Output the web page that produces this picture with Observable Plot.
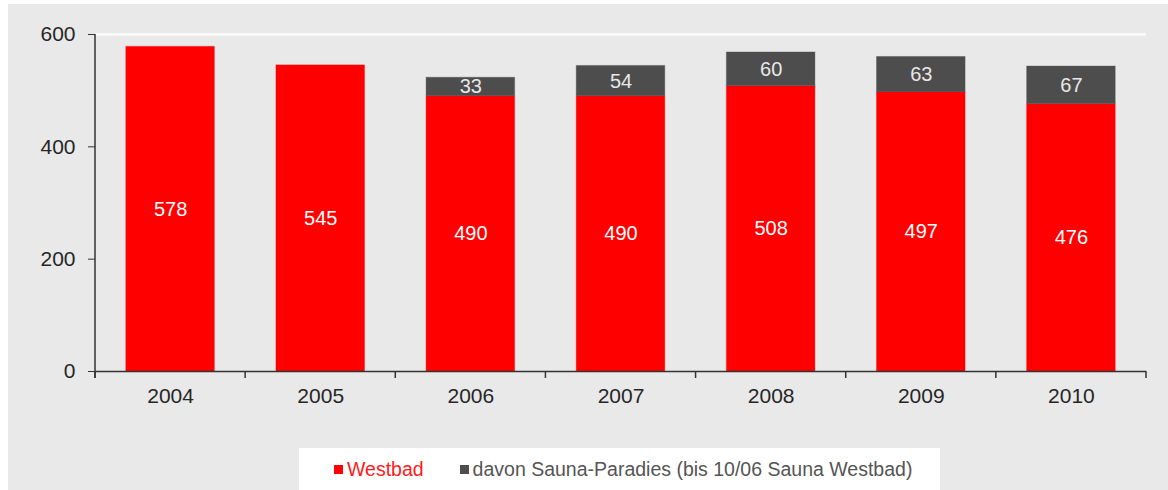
<!DOCTYPE html>
<html><head><meta charset="utf-8">
<script src="https://cdn.jsdelivr.net/npm/d3@7"></script>
<script src="https://cdn.jsdelivr.net/npm/@observablehq/plot@0.6"></script>
<style>
body{margin:0;background:#fff;font-family:"Liberation Sans",Arial,sans-serif;}
#wrap{position:absolute;left:8px;top:4px;width:1160px;height:486px;background:#e9e9e9;overflow:hidden;}
#chart{position:absolute;left:0;top:0;}
#legend{position:absolute;left:291px;top:444px;width:641px;height:42px;background:#fff;font-size:19.5px;display:flex;align-items:center;padding-left:35px;box-sizing:border-box;white-space:nowrap;}
.item{display:flex;align-items:center;}
.sw{width:9px;height:9px;margin-right:4px;display:inline-block;}
</style></head><body>
<div id="wrap"><div id="chart"></div><div id="legend"></div></div>
<script>
const years = ["2004","2005","2006","2007","2008","2009","2010"];
const westbad = [578,545,490,490,508,497,476];
const sauna = [null,null,33,54,60,63,67];
const seriesNames = ["Westbad","davon Sauna-Paradies (bis 10/06 Sauna Westbad)"];
const seriesColors = ["#ff0000","#4d4d4d"];
const legendTextColors = ["#ff1a1a","#555555"];
const yTicks = [0,200,400,600];

const rows = [];
years.forEach((y,i)=>{
  rows.push({year:y, series:seriesNames[0], value:westbad[i]});
  if (sauna[i] != null) rows.push({year:y, series:seriesNames[1], value:sauna[i]});
});

const chart = Plot.plot({
  width:1160, height:440,
  marginLeft:87, marginRight:22, marginTop:30, marginBottom:73,
  style:{background:"transparent", fontFamily:'"Liberation Sans",Arial,sans-serif', overflow:"visible"},
  x:{domain:years, paddingInner:0.41, paddingOuter:0.205, round:false, label:null},
  y:{domain:[0,600], label:null},
  color:{domain:seriesNames, range:seriesColors},
  marks:[
    Plot.ruleY([600],{stroke:"#ffffff", strokeWidth:2}),
    Plot.barY(rows, Plot.stackY({x:"year", y:"value", fill:"series", stroke:d=>d.series, strokeOpacity:0.35})),
    Plot.text(rows, Plot.stackY({x:"year", y:"value", z:"series",
      text:d=>d.series===seriesNames[0]?String(d.value):null, fill:"#ffffff", fontSize:20})),
    Plot.text(rows, Plot.stackY({x:"year", y:"value", z:"series",
      text:d=>d.series===seriesNames[1]?String(d.value):null, fill:"#e8e8e8", fontSize:20})),
    Plot.ruleY([0],{stroke:"#333333", strokeWidth:1.5}),
    Plot.axisY({ticks:yTicks, tickSize:7, tickPadding:13, fontSize:21, color:"#262626", stroke:"#333333"}),
    Plot.axisX({tickSize:0, tickPadding:17, fontSize:21, color:"#262626"})
  ]
});
document.getElementById("chart").appendChild(chart);

// axis lines and category boundary ticks from the library's scales
const xs = chart.scale("x"), ys = chart.scale("y");
const step = xs.step ?? ((xs.range[1]-xs.range[0])/years.length);
const bw = xs.bandwidth ?? step*(1-0.41);
const y0 = ys.apply(0), yTop = ys.apply(600);
const g = d3.select(chart).append("g").attr("stroke","#333333").attr("stroke-width",1.5);
g.append("line").attr("x1",xs.range[0]).attr("x2",xs.range[0]).attr("y1",yTop).attr("y2",y0+7);
const bounds = years.map(y=>xs.apply(y)-(step-bw)/2);
bounds.push(bounds[bounds.length-1]+step);
bounds.forEach(b=>g.append("line").attr("x1",b).attr("x2",b).attr("y1",y0).attr("y2",y0+7));

const legend = document.getElementById("legend");
seriesNames.forEach((n,i)=>{
  const it = document.createElement("span");
  it.className="item";
  if (i>0) it.style.marginLeft="36px";
  const sw = document.createElement("span");
  sw.className="sw"; sw.style.background=seriesColors[i];
  const tx = document.createElement("span");
  tx.textContent=n; tx.style.color=legendTextColors[i];
  it.appendChild(sw); it.appendChild(tx);
  legend.appendChild(it);
});
</script>
</body></html>
